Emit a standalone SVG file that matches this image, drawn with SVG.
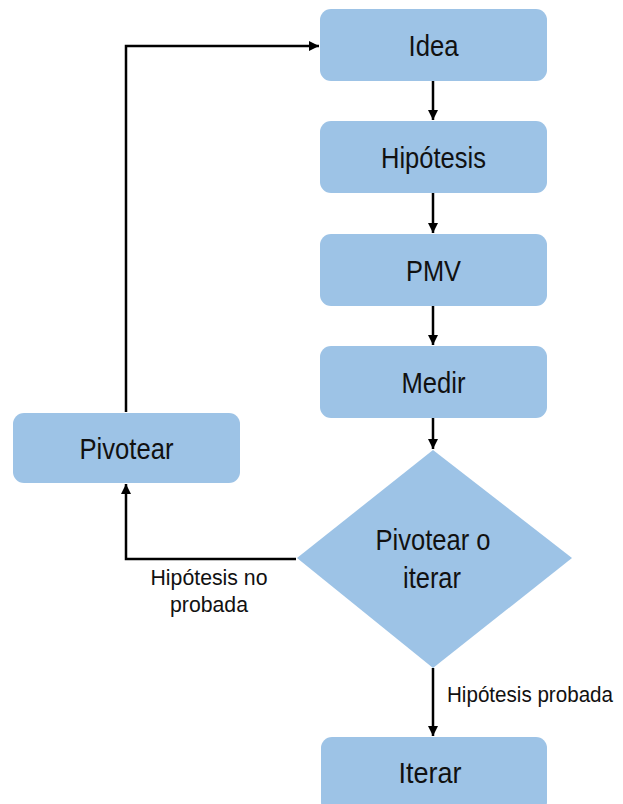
<svg xmlns="http://www.w3.org/2000/svg" width="623" height="804" viewBox="0 0 623 804">
  <style>
    .box { fill: #9dc3e6; }
    .lbl { font-family: "Liberation Sans", Arial, sans-serif; font-size: 29px; fill: #111; text-anchor: middle; }
    .note { font-family: "Liberation Sans", Arial, sans-serif; font-size: 22px; fill: #111; text-anchor: middle; }
    .edge { fill: none; stroke: #000; stroke-width: 2.5; marker-end: url(#arrow); }
  </style>
  <defs>
    <marker id="arrow" viewBox="0 0 10 10" refX="10" refY="5" markerWidth="4" markerHeight="4" orient="auto" markerUnits="strokeWidth">
      <path d="M0,0 L10,5 L0,10 z" fill="#000"/>
    </marker>
  </defs>

  <g id="idea">
    <rect class="box" x="320" y="9" width="227" height="72" rx="11"/>
    <text class="lbl" x="433.5" y="56" textLength="50" lengthAdjust="spacingAndGlyphs">Idea</text>
  </g>
  <g id="hipotesis">
    <rect class="box" x="320" y="121" width="227" height="72" rx="11"/>
    <text class="lbl" x="433.5" y="168" textLength="105" lengthAdjust="spacingAndGlyphs">Hipótesis</text>
  </g>
  <g id="pmv">
    <rect class="box" x="320" y="234" width="227" height="72" rx="11"/>
    <text class="lbl" x="433.5" y="281" textLength="55" lengthAdjust="spacingAndGlyphs">PMV</text>
  </g>
  <g id="medir">
    <rect class="box" x="320" y="346" width="227" height="72" rx="11"/>
    <text class="lbl" x="433.5" y="393" textLength="64" lengthAdjust="spacingAndGlyphs">Medir</text>
  </g>
  <g id="pivotear">
    <rect class="box" x="13" y="413" width="227" height="70" rx="11"/>
    <text class="lbl" x="126.5" y="459" textLength="94" lengthAdjust="spacingAndGlyphs">Pivotear</text>
  </g>
  <g id="decision">
    <polygon class="box" points="433,450 572,558 433,668 297,558"/>
    <text class="lbl" x="433" y="550" textLength="115" lengthAdjust="spacingAndGlyphs">Pivotear o</text>
    <text class="lbl" x="432" y="588" textLength="58" lengthAdjust="spacingAndGlyphs">iterar</text>
  </g>
  <g id="iterar">
    <rect class="box" x="321" y="737" width="226" height="76" rx="11"/>
    <text class="lbl" x="430" y="783" textLength="63" lengthAdjust="spacingAndGlyphs">Iterar</text>
  </g>

  <g id="connectors">
    <line class="edge" x1="433" y1="81" x2="433" y2="120"/>
    <line class="edge" x1="433" y1="193" x2="433" y2="233"/>
    <line class="edge" x1="433" y1="306" x2="433" y2="345"/>
    <line class="edge" x1="433" y1="418" x2="433" y2="449"/>
    <line class="edge" x1="433" y1="668" x2="433" y2="736"/>
    <polyline class="edge" points="296,559 126,559 126,484"/>
    <polyline class="edge" points="126,412 126,46 319,46"/>
    <text class="note" x="209" y="585" textLength="117" lengthAdjust="spacingAndGlyphs">Hipótesis no</text>
    <text class="note" x="209" y="612" textLength="78" lengthAdjust="spacingAndGlyphs">probada</text>
    <text class="note" x="530" y="702" font-size="21" textLength="166" lengthAdjust="spacingAndGlyphs">Hipótesis probada</text>
  </g>
</svg>
